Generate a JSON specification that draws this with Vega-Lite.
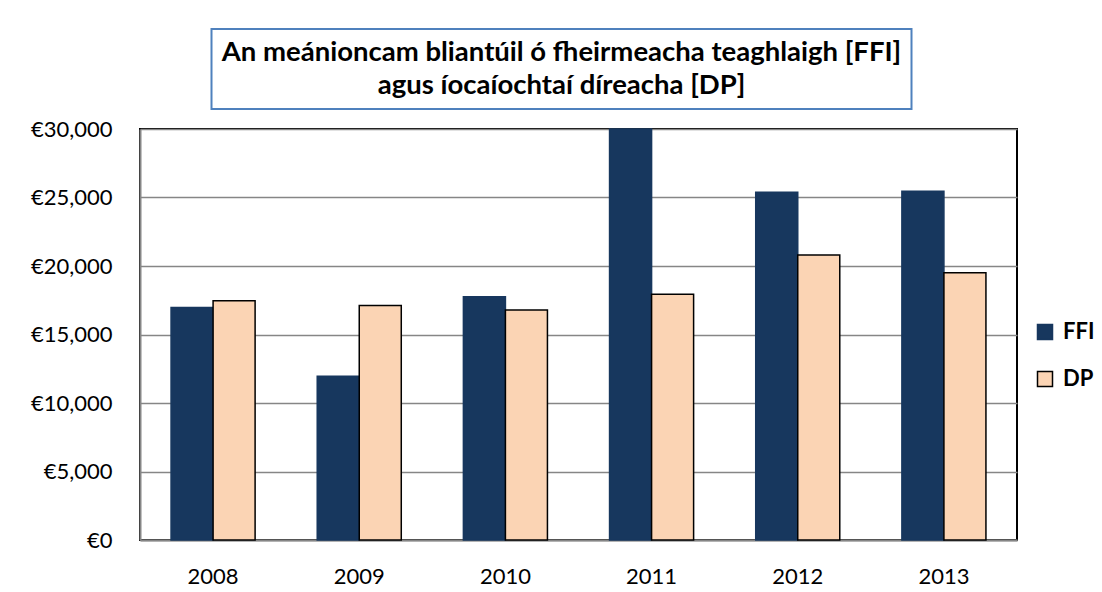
{
  "$schema": "https://vega.github.io/schema/vega-lite/v6.json",
  "padding": {"left": 29, "top": 28, "right": 0, "bottom": 0},
  "background": "white",
  "config": {"font": "Lato"},
  "spacing": 7,
  "center": true,
  "vconcat": [
    {
      "width": 700,
      "height": 80,
      "view": {"stroke": "#4F81BD", "strokeWidth": 2},
      "data": {"values": [{"title": "An meánioncam bliantúil ó fheirmeacha teaghlaigh [FFI]\nagus íocaíochtaí díreacha [DP]"}]},
      "mark": {"type": "text", "lineBreak": "\n", "font": "Lato", "fontWeight": "bold", "fontSize": 27.5, "lineHeight": 33, "baseline": "middle", "align": "center", "dy": -16, "color": "black"},
      "encoding": {
        "text": {"field": "title", "type": "nominal"},
        "y": {"field": "title", "type": "nominal", "axis": {"orient": "right", "title": null, "labels": false, "ticks": false, "domain": false, "grid": false, "minExtent": 34}}
      }
    },
    {
      "width": 877,
      "height": 411,
      "view": {"stroke": "black", "strokeWidth": 2},
      "data": {"values": [
        {"year": "2008", "series": "FFI", "value": 16970},
        {"year": "2008", "series": "DP", "value": 17470},
        {"year": "2009", "series": "FFI", "value": 11950},
        {"year": "2009", "series": "DP", "value": 17110},
        {"year": "2010", "series": "FFI", "value": 17750},
        {"year": "2010", "series": "DP", "value": 16780},
        {"year": "2011", "series": "FFI", "value": 30000},
        {"year": "2011", "series": "DP", "value": 17940},
        {"year": "2012", "series": "FFI", "value": 25390},
        {"year": "2012", "series": "DP", "value": 20810},
        {"year": "2013", "series": "FFI", "value": 25450},
        {"year": "2013", "series": "DP", "value": 19510}
      ]},
      "mark": {"type": "bar", "strokeWidth": 1.5},
      "encoding": {
        "x": {"field": "year", "type": "ordinal",
              "scale": {"paddingInner": 0.425, "paddingOuter": 0.2125},
              "axis": {"title": null, "labelAngle": 0, "labelFontSize": 22, "labelPadding": 26, "ticks": false, "domainColor": "#868686", "domainWidth": 2, "labelColor": "black", "labelFont": "Lato"}},
        "xOffset": {"field": "series", "type": "nominal", "sort": ["FFI", "DP"], "scale": {"paddingInner": 0, "paddingOuter": 0}},
        "y": {"field": "value", "type": "quantitative",
              "scale": {"domain": [0, 30000], "nice": false},
              "axis": {"title": null, "values": [0, 5000, 10000, 15000, 20000, 25000, 30000], "labelExpr": "'€' + format(datum.value, ',')", "grid": true, "gridColor": "#868686", "gridWidth": 1.5, "ticks": false, "labelPadding": 28, "labelFontSize": 22, "labelColor": "black", "labelFont": "Lato", "domainColor": "#868686", "domainWidth": 2}},
        "color": {"field": "series", "type": "nominal",
                  "scale": {"domain": ["FFI", "DP"], "range": ["#17375E", "#FBD4B4"]},
                  "legend": {"title": null, "orient": "none", "legendX": 894, "legendY": 292, "symbolType": "square", "symbolSize": 225, "symbolStrokeWidth": 1.5, "labelFontSize": 22, "labelFontWeight": "bold", "labelColor": "black", "labelFont": "Lato", "rowPadding": 25, "labelOffset": 7}},
        "stroke": {"field": "series", "type": "nominal",
                   "scale": {"domain": ["FFI", "DP"], "range": ["#17375E", "black"]}}
      }
    }
  ]
}
